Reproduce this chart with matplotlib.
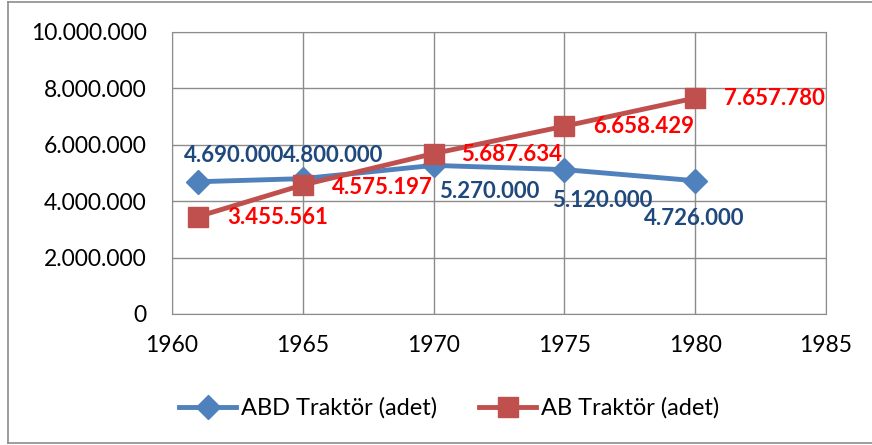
import matplotlib.pyplot as plt
from matplotlib.lines import Line2D

plt.rcParams['font.family'] = ['Lato', 'DejaVu Sans']

years = [1961, 1965, 1970, 1975, 1980]
abd = [4690000, 4800000, 5270000, 5120000, 4726000]
ab = [3455561, 4575197, 5687634, 6658429, 7657780]


def fmt(v):
    return f'{v:,.0f}'.replace(',', '.')


fig = plt.figure(figsize=(8.72, 4.45), dpi=100)
ax = fig.add_axes([0.1972, 0.2944, 0.750, 0.6337])

ax.plot(years, abd, color='#4F81BD', lw=3.5, marker='D', ms=12,
        label='ABD Traktör (adet)', zorder=3)
ax.plot(years, ab, color='#C0504D', lw=3.5, marker='s', ms=14,
        label='AB Traktör (adet)', zorder=3)

# label offsets (points), Excel-like placement
abd_off = [(26, 19), (22, 17), (40, -19), (27, -22), (-1, -27)]
ab_off = [(57, -1), (57, -1.5), (56, -1), (57, 0), (57, 0)]
for x, y, o in zip(years, abd, abd_off):
    ax.annotate(fmt(y), (x, y), xytext=o, textcoords='offset points',
                ha='center', va='center', fontsize=16, fontweight='bold',
                color='#1F497D', zorder=4)
for x, y, o in zip(years, ab, ab_off):
    ax.annotate(fmt(y), (x, y), xytext=o, textcoords='offset points',
                ha='center', va='center', fontsize=16, fontweight='bold',
                color='#FF0000', zorder=4)

ax.set_xlim(1960, 1985)
ax.set_ylim(0, 10000000)
ax.set_xticks(range(1960, 1986, 5))
ax.set_yticks(range(0, 10000001, 2000000))
ax.set_yticklabels([fmt(v) for v in range(0, 10000001, 2000000)])
ax.tick_params(labelsize=16.5, length=0)
ax.tick_params(axis='y', pad=18)
ax.tick_params(axis='x', pad=15)
ax.grid(True, color='#8C8C8C', lw=1)
ax.set_axisbelow(True)
for s in ax.spines.values():
    s.set_color('#8C8C8C')

fig.legend(loc='center', bbox_to_anchor=(0.515, 0.083), ncol=2, frameon=False,
           fontsize=17, handlelength=2.4, columnspacing=1.8, handletextpad=0.2)

# chart-area border (left, top, bottom)
for xs, ys in [([0.009, 0.009], [0.004, 0.996]), ([0.009, 1.0], [0.996, 0.996]),
               ([0.009, 1.0], [0.004, 0.004])]:
    fig.add_artist(Line2D(xs, ys, transform=fig.transFigure, color='#8C8C8C', lw=1.2))

fig.savefig('out.png', dpi=100)
